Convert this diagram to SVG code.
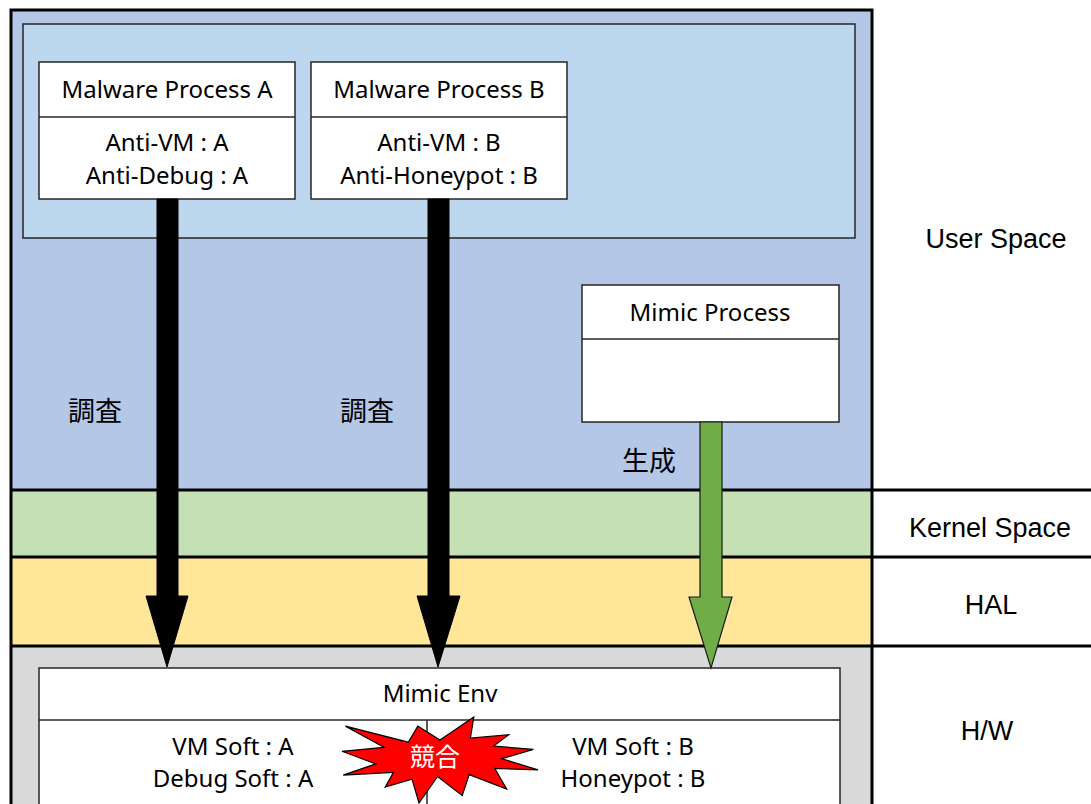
<svg xmlns="http://www.w3.org/2000/svg" width="1091" height="804" viewBox="0 0 1091 804">
<style>
.box{fill:#fff;stroke:#262626;stroke-width:1.5}
.div{stroke:#262626;stroke-width:1.5;fill:none}
.t{font-family:"Noto Sans","Open Sans",sans-serif;font-size:24px;fill:#000;text-anchor:middle}
.r{font-family:"Liberation Sans",Arial,sans-serif;font-size:27px;fill:#000;text-anchor:middle}
.j{font-family:"Noto Sans CJK JP","Noto Sans",sans-serif;font-size:27px;fill:#000;text-anchor:middle}
.frame{stroke:#000;stroke-width:3;fill:none}
</style>
<rect width="1091" height="804" fill="#fff"/>
<g id="layers">
<rect x="11" y="10" width="861" height="480" fill="#B4C7E7"/>
<rect x="11" y="490" width="861" height="67" fill="#C5E0B4"/>
<rect x="11" y="557" width="861" height="89" fill="#FFE699"/>
<rect x="11" y="646" width="861" height="160" fill="#D9D9D9"/>
<path class="frame" d="M11 810V10H872V810M11 490H1091M11 557H1091M11 646H1091"/>
<rect x="23" y="24" width="832" height="214" fill="#BDD7EE" stroke="#262626" stroke-width="1.5"/>
<text class="r" x="996" y="248">User Space</text>
<text class="r" x="990" y="537">Kernel Space</text>
<text class="r" x="991" y="614">HAL</text>
<text class="r" x="987" y="740">H/W</text>
</g>
<g id="malwareA">
<rect class="box" x="39" y="62" width="256" height="137"/>
<line class="div" x1="39" y1="117" x2="295" y2="117"/>
<text class="t" x="167" y="98">Malware Process A</text>
<text class="t" x="167" y="151">Anti-VM : A</text>
<text class="t" x="167" y="184">Anti-Debug : A</text>
</g>
<g id="malwareB">
<rect class="box" x="311" y="62" width="256" height="137"/>
<line class="div" x1="311" y1="117" x2="567" y2="117"/>
<text class="t" x="439" y="98">Malware Process B</text>
<text class="t" x="439" y="151">Anti-VM : B</text>
<text class="t" x="439" y="184">Anti-Honeypot : B</text>
</g>
<g id="mimicProcess">
<rect class="box" x="582" y="285" width="257" height="137"/>
<line class="div" x1="582" y1="339" x2="839" y2="339"/>
<text class="t" x="710" y="321">Mimic Process</text>
</g>
<g id="mimicEnv">
<rect class="box" x="39" y="668" width="801" height="140"/>
<line class="div" x1="39" y1="720" x2="840" y2="720"/>
<line class="div" x1="427" y1="720" x2="427" y2="808"/>
<text class="t" x="440" y="702">Mimic Env</text>
<text class="t" x="233" y="755">VM Soft : A</text>
<text class="t" x="233" y="787">Debug Soft : A</text>
<text class="t" x="633" y="755">VM Soft : B</text>
<text class="t" x="633" y="787">Honeypot : B</text>
</g>
<g id="connectors">
<polygon points="157,199 178,199 178,596 188,596 167,667 146,596 157,596" fill="#000" stroke="#000" stroke-width="1"/>
<polygon points="428,199 449,199 449,596 460,596 438,667 417,596 428,596" fill="#000" stroke="#000" stroke-width="1"/>
<polygon points="700,422 722,422 722,597 732,597 711,668 689,597 700,597" fill="#70AD47" stroke="#1a1a1a" stroke-width="1.2"/>
<text class="j" x="95" y="421">調査</text>
<text class="j" x="367" y="421">調査</text>
<text class="j" x="649" y="471">生成</text>
</g>
<g id="conflict">
<polygon fill="#FF0000" stroke="#000" stroke-width="1.2" points="440,740.1 473.8,717 470.4,738.2 508.8,734.7 493.6,746.1 533.4,749.4 501.8,758.7 538,769.9 494.8,768.5 506.7,789 469.2,774.6 462.2,795.6 437.6,776.5 419,803 412,779.2 385.2,787.1 393.4,772.5 343.2,775.1 375.8,763.9 342,751.3 384,747.3 345.4,726.1 408.3,742.2 417.8,726.1"/>
<text x="435" y="766" font-family="Noto Sans CJK JP,Noto Sans,sans-serif" font-size="25" fill="#fff" text-anchor="middle">競合</text>
</g>
</svg>
